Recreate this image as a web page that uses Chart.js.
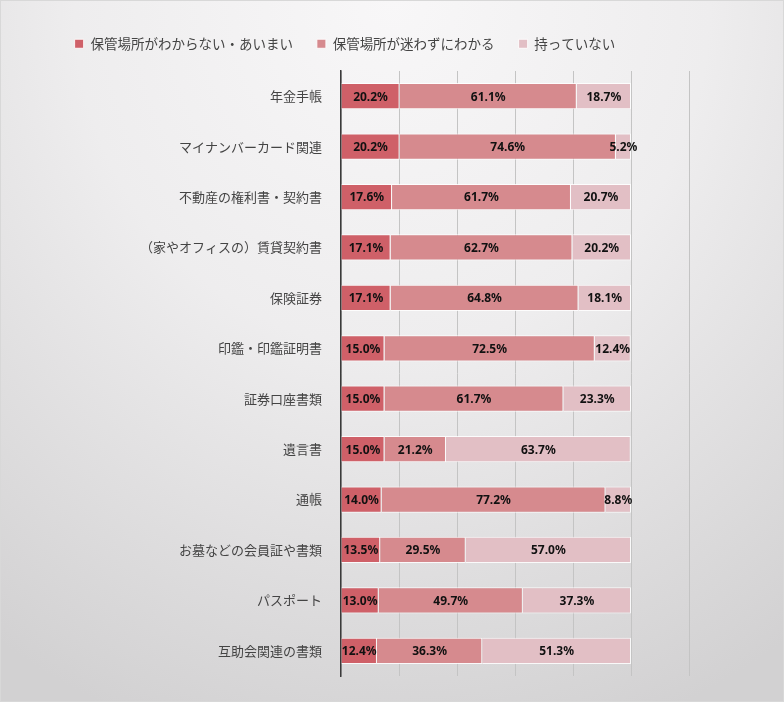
<!DOCTYPE html>
<html lang="ja">
<head>
<meta charset="utf-8">
<script src="https://cdn.jsdelivr.net/npm/chart.js@4.4.1/dist/chart.umd.min.js"></script>
<style>
  html, body { margin: 0; padding: 0; }
  body {
    width: 784px; height: 702px; overflow: hidden;
    background: radial-gradient(ellipse 90% 110% at 50% 0%, #f8f7f8 0%, #eeedee 45%, #d2d1d2 100%);
  }
  #wrap { position: absolute; left: 0; top: 0; width: 782px; height: 700px; border: 1px solid #d8d8d8; }
  canvas { display: block; }
</style>
</head>
<body>
<div id="wrap"><canvas id="chartHokan" width="782" height="700"></canvas></div>
<script>
// カテゴリと各系列の値（％）
const categories = [
  "年金手帳",
  "マイナンバーカード関連",
  "不動産の権利書・契約書",
  "（家やオフィスの）賃貸契約書",
  "保険証券",
  "印鑑・印鑑証明書",
  "証券口座書類",
  "遺言書",
  "通帳",
  "お墓などの会員証や書類",
  "パスポート",
  "互助会関連の書類"
];
const seriesNames = ["保管場所がわからない・あいまい", "保管場所が迷わずにわかる", "持っていない"];
const aimai   = [20.2, 20.2, 17.6, 17.1, 17.1, 15.0, 15.0, 15.0, 14.0, 13.5, 13.0, 12.4];
const wakaru  = [61.1, 74.6, 61.7, 62.7, 64.8, 72.5, 61.7, 21.2, 77.2, 29.5, 49.7, 36.3];
const motanai = [18.7,  5.2, 20.7, 20.2, 18.1, 12.4, 23.3, 63.7,  8.8, 57.0, 37.3, 51.3];

// 値ラベルを描くプラグイン
const valueLabels = {
  id: "valueLabels",
  afterDatasetsDraw(chart) {
    const ctx = chart.ctx;
    ctx.save();
    ctx.font = "bold 12px 'Noto Sans', 'Liberation Sans', sans-serif";
    ctx.fillStyle = "#111";
    ctx.textAlign = "center";
    ctx.textBaseline = "middle";
    chart.data.datasets.forEach((ds, i) => {
      chart.getDatasetMeta(i).data.forEach((bar, j) => {
        const cx = (bar.x + bar.base) / 2;
        ctx.fillText(ds.data[j].toFixed(1) + "%", cx, bar.y + 1);
      });
    });
    ctx.restore();
  }
};

// 凡例の高さを固定
const legendGap = {
  id: "legendGap",
  beforeInit(chart) {
    const fit = chart.legend.fit;
    chart.legend.fit = function () {
      fit.bind(chart.legend)();
      this.height = 58;
    };
  }
};

const ctx = document.getElementById("chartHokan").getContext("2d");
const chartHokan = new Chart(ctx, {
  type: "bar",
  data: {
    labels: categories,
    datasets: [
      { label: seriesNames[0], data: aimai,   backgroundColor: "#cf6068", borderColor: "rgba(255,255,255,0.85)", borderWidth: 1 },
      { label: seriesNames[1], data: wakaru,  backgroundColor: "#d68a8e", borderColor: "rgba(255,255,255,0.85)", borderWidth: 1 },
      { label: seriesNames[2], data: motanai, backgroundColor: "#e2bfc5", borderColor: "rgba(255,255,255,0.85)", borderWidth: 1 }
    ]
  },
  options: {
    indexAxis: "y",
    responsive: false,
    animation: false,
    layout: { padding: { top: 12, right: 94, bottom: 25, left: 0 } },
    datasets: { bar: { barPercentage: 0.52, categoryPercentage: 1.0 } },
    plugins: {
      tooltip: { enabled: false },
      legend: {
        position: "top",
        labels: {
          boxWidth: 9,
          boxHeight: 9,
          padding: 24,
          color: "#444",
          font: { size: 13.5, family: "'Noto Sans CJK JP', sans-serif" }
        }
      }
    },
    scales: {
      x: {
        stacked: true,
        min: 0,
        max: 120,
        ticks: { display: false, stepSize: 20 },
        grid: { color: "#c4c4c4", lineWidth: 1, drawTicks: false },
        border: { display: false }
      },
      y: {
        stacked: true,
        afterFit(scale) { scale.width = 340; },
        ticks: {
          padding: 11,
          color: "#444",
          font: { size: 13, family: "'Noto Sans CJK JP', sans-serif" }
        },
        grid: { display: false },
        border: { display: true, color: "#3a3a3a", width: 1.5 }
      }
    }
  },
  plugins: [valueLabels, legendGap]
});
</script>
</body>
</html>
